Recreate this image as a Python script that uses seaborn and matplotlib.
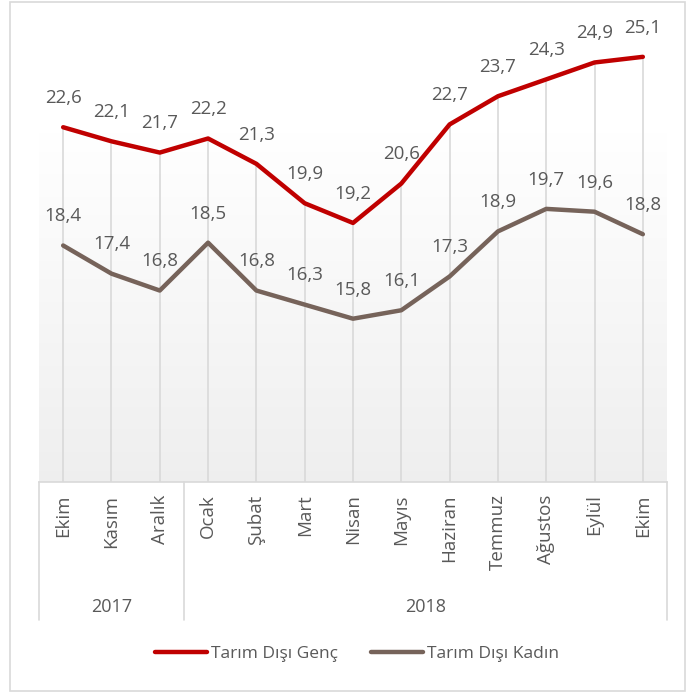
import numpy as np
import pandas as pd
import matplotlib
matplotlib.use("Agg")
import matplotlib.pyplot as plt
from matplotlib.colors import to_rgb
from matplotlib.lines import Line2D
from matplotlib.patches import Rectangle
from matplotlib.transforms import blended_transform_factory
import seaborn as sns

months = ["Ekim", "Kasım", "Aralık", "Ocak", "Şubat", "Mart", "Nisan", "Mayıs",
          "Haziran", "Temmuz", "Ağustos", "Eylül", "Ekim"]
years = ["2017", "2018"]
year_counts = [3, 10]
genc = [22.6, 22.1, 21.7, 22.2, 21.3, 19.9, 19.2, 20.6, 22.7, 23.7, 24.3, 24.9, 25.1]
kadin = [18.4, 17.4, 16.8, 18.5, 16.8, 16.3, 15.8, 16.1, 17.3, 18.9, 19.7, 19.6, 18.8]
series_names = ["Tarım Dışı Genç", "Tarım Dışı Kadın"]
colors = ["#C00000", "#76635A"]

sns.set_style("white")
plt.rcParams["font.family"] = ["Open Sans", "DejaVu Sans"]
TXT = "#595959"
GRID = "#D9D9D9"

W, H = 686, 693
fig = plt.figure(figsize=(W / 100, H / 100), dpi=100)

def fx(px):
    return px / W

def fy(py):
    return (H - py) / H

ax = fig.add_axes([fx(39), fy(482), fx(667) - fx(39), fy(31.5) - fy(482)])
ax.set_facecolor("white")

idx = np.arange(len(months))
df = pd.DataFrame({
    "idx": np.concatenate([idx, idx]),
    "value": genc + kadin,
    "series": [series_names[0]] * len(idx) + [series_names[1]] * len(idx),
})

YMIN, YMAX = 10, 26
# gradient background: light grey at bottom fading to white towards the top
c_bot = np.array(to_rgb("#EEEEEE"))
c_top = np.array([1.0, 1.0, 1.0])
nb = 120
edges = np.linspace(YMIN, YMAX, nb + 1)
for k in range(nb):
    f = (k + 0.5) / nb                # 0 at bottom, 1 at top
    w = min(f / 0.8, 1.0)             # white from 80% upward
    col = c_bot * (1 - w) + c_top * w
    ax.axhspan(edges[k], edges[k + 1], color=col, lw=0, zorder=0)

# drop lines
tops = np.maximum(genc, kadin)
ax.vlines(idx, YMIN, tops, color=GRID, lw=1.2, zorder=1)

sns.lineplot(data=df, x="idx", y="value", hue="series", palette=colors,
             linewidth=3.2, legend=False, ax=ax, zorder=3)

for vals in (genc, kadin):
    for i, v in enumerate(vals):
        ax.annotate(f"{v:.1f}".replace(".", ","), (i, v), xytext=(0, 21),
                    textcoords="offset points", ha="center", va="center",
                    fontsize=13.5, color=TXT, zorder=4)

ax.set_xlim(-0.5, 12.5)
ax.set_ylim(YMIN, YMAX)
ax.set_yticks([])
ax.set_xticks(idx)
ax.set_xticklabels(months, rotation=90, fontsize=13.5, color=TXT)
ax.tick_params(axis="x", length=0, pad=9)
ax.set_xlabel("")
ax.set_ylabel("")
for s in ["left", "right", "top"]:
    ax.spines[s].set_visible(False)
ax.spines["bottom"].set_color(GRID)
ax.spines["bottom"].set_linewidth(1.2)

tr = blended_transform_factory(ax.transData, fig.transFigure)
# category box separators
start = -0.5
bounds = [start]
for c in year_counts:
    start += c
    bounds.append(start)
for b in bounds:
    fig.add_artist(Line2D([b, b], [fy(482), fy(620)], transform=tr, color=GRID, lw=1.2))
for k, yname in enumerate(years):
    cx = (bounds[k] + bounds[k + 1]) / 2
    fig.text(cx, fy(607), yname, transform=tr, ha="center", va="center",
             fontsize=13, color=TXT)

# outer border
fig.add_artist(Rectangle((fx(10), fy(691)), fx(685) - fx(10), fy(2) - fy(691),
                         transform=fig.transFigure, fill=False, edgecolor=GRID, lw=1.2))

handles = [Line2D([0], [0], color=c, lw=3.2, solid_capstyle="round") for c in colors]
leg = fig.legend(handles, series_names, loc="center", bbox_to_anchor=(fx(357), fy(654)),
                 ncol=2, frameon=False, fontsize=12.5, handlelength=3.0,
                 handletextpad=0.25, columnspacing=1.9)
for t_ in leg.get_texts():
    t_.set_color(TXT)

fig.savefig("out.png", dpi=100)
